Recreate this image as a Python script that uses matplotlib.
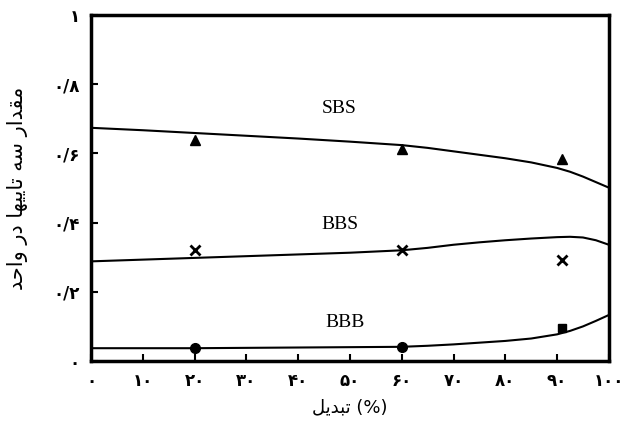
import matplotlib
matplotlib.use("Agg")
import matplotlib.pyplot as plt

# ---- data ----
curve_x = [0, 10, 20, 30, 40, 50, 60, 65, 70, 75, 80, 85, 90, 92.5, 95, 97.5, 100]
sbs_curve = [0.674, 0.667, 0.659, 0.651, 0.643, 0.634, 0.624, 0.616, 0.606, 0.596, 0.586, 0.574, 0.558, 0.547, 0.533, 0.517, 0.501]
bbs_curve = [0.288, 0.293, 0.298, 0.303, 0.308, 0.313, 0.320, 0.327, 0.336, 0.343, 0.349, 0.354, 0.358, 0.359, 0.357, 0.349, 0.336]
bbb_curve = [0.037, 0.037, 0.037, 0.038, 0.039, 0.040, 0.041, 0.044, 0.048, 0.053, 0.058, 0.065, 0.077, 0.087, 0.100, 0.116, 0.133]

pts_x = [20, 60, 91]
sbs_pts = [0.639, 0.612, 0.583]
bbs_pts = [0.320, 0.322, 0.293]
bbb_pts = [0.037, 0.041, 0.095]

series_names = ["SBS", "BBS", "BBB"]
label_pos = [(48, 0.731), (48, 0.394), (49, 0.11)]

x_ticks = [0, 10, 20, 30, 40, 50, 60, 70, 80, 90, 100]
x_tick_labels = ["۰", "۱۰", "۲۰", "۳۰", "۴۰", "۵۰", "۶۰", "۷۰", "۸۰", "۹۰", "۱۰۰"]
y_ticks = [0, 0.2, 0.4, 0.6, 0.8, 1.0]
y_tick_labels = ["۰", "۰/۲", "۰/۴", "۰/۶", "۰/۸", "۱"]
x_label = "تبدیل"
y_label = "مقدار سه تاییها در واحد"

# ---- minimal Arabic/Persian shaping (presentation forms, visual order) ----
FORMS = {
    'ا': ('\uFE8D', '\uFE8E', None, None),
    'ب': ('\uFE8F', '\uFE90', '\uFE91', '\uFE92'),
    'ت': ('\uFE95', '\uFE96', '\uFE97', '\uFE98'),
    'ح': ('\uFEA1', '\uFEA2', '\uFEA3', '\uFEA4'),
    'د': ('\uFEA9', '\uFEAA', None, None),
    'ر': ('\uFEAD', '\uFEAE', None, None),
    'س': ('\uFEB1', '\uFEB2', '\uFEB3', '\uFEB4'),
    'ق': ('\uFED5', '\uFED6', '\uFED7', '\uFED8'),
    'ل': ('\uFEDD', '\uFEDE', '\uFEDF', '\uFEE0'),
    'م': ('\uFEE1', '\uFEE2', '\uFEE3', '\uFEE4'),
    'ه': ('\uFEE9', '\uFEEA', '\uFEEB', '\uFEEC'),
    'و': ('\uFEED', '\uFEEE', None, None),
    'ی': ('\uFBFC', '\uFBFD', '\uFBFE', '\uFBFF'),
}


def shape(s):
    out = []
    for i, c in enumerate(s):
        if c not in FORMS:
            out.append(c)
            continue
        f = FORMS[c]
        prev = s[i - 1] if i > 0 else ''
        nxt = s[i + 1] if i + 1 < len(s) else ''
        jp = prev in FORMS and FORMS[prev][2] is not None
        jn = f[2] is not None and nxt in FORMS
        if jp and jn:
            out.append(f[3])
        elif jp:
            out.append(f[1])
        elif jn:
            out.append(f[2])
        else:
            out.append(f[0])
    return ''.join(reversed(out))


fig = plt.figure(figsize=(6.29, 4.29), dpi=100)
ax = fig.add_axes([0.1447, 0.1585, 0.8233, 0.8065])

ax.plot(curve_x, sbs_curve, color='black', lw=1.5)
ax.plot(curve_x, bbs_curve, color='black', lw=1.5)
ax.plot(curve_x, bbb_curve, color='black', lw=1.5)

ax.plot(pts_x, sbs_pts, linestyle='none', marker='^', color='black', ms=7)
ax.plot(pts_x, bbs_pts, linestyle='none', marker='x', color='black', ms=7, mew=2)
ax.plot(pts_x[:2], bbb_pts[:2], linestyle='none', marker='o', color='black', ms=7)
ax.plot(pts_x[2:], bbb_pts[2:], linestyle='none', marker='s', color='black', ms=6)

for name, (lx, ly) in zip(series_names, label_pos):
    ax.text(lx, ly, name, ha='center', va='center', fontsize=14,
            family='Liberation Serif')

ax.set_xlim(0, 100)
ax.set_ylim(0, 1)
ax.set_xticks(x_ticks)
ax.set_xticklabels(x_tick_labels, fontsize=12, fontweight='bold', family='DejaVu Sans')
ax.set_yticks(y_ticks)
ax.set_yticklabels(y_tick_labels, fontsize=12, fontweight='bold', family='DejaVu Sans')
ax.tick_params(direction='in', length=5, width=1.5, pad=8)

for sp in ax.spines.values():
    sp.set_linewidth(2.5)

ax.set_xlabel(shape(x_label) + " (%)", fontsize=13,
              family='DejaVu Sans', labelpad=6)
ax.set_ylabel(shape(y_label), fontsize=15, family='DejaVu Sans')
ax.yaxis.set_label_coords(-0.122, 0.5)

fig.savefig("out.png", dpi=100)
